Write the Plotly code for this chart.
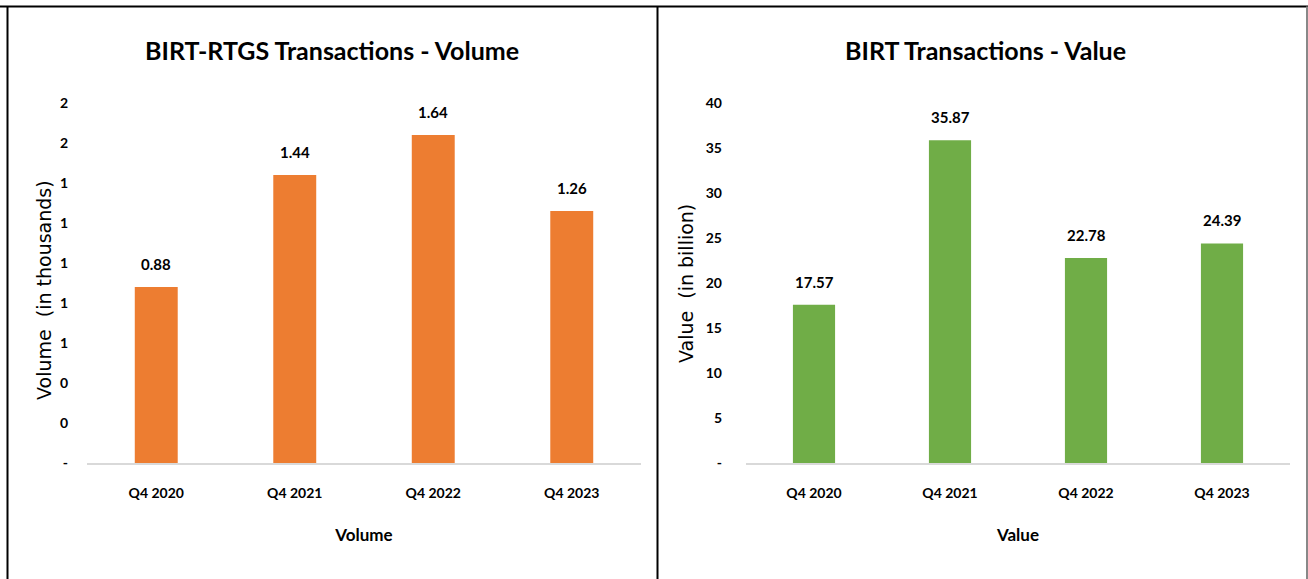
import plotly.graph_objects as go

# data
quarters = ["Q4 2020", "Q4 2021", "Q4 2022", "Q4 2023"]
volume = [0.88, 1.44, 1.64, 1.26]
value = [17.57, 35.87, 22.78, 24.39]

vol_tickvals = [0, 0.2, 0.4, 0.6, 0.8, 1.0, 1.2, 1.4, 1.6, 1.8]
vol_ticktext = ["-", "0", "0", "1", "1", "1", "1", "1", "2", "2"]
val_tickvals = [0, 5, 10, 15, 20, 25, 30, 35, 40]
val_ticktext = ["-", "5", "10", "15", "20", "25", "30", "35", "40"]

W, H = 1308, 579
FONT = "Lato"
ORANGE = "#ED7D31"
GREEN = "#70AD47"

fig = go.Figure()
fig.add_trace(go.Bar(x=quarters, y=volume, marker_color=ORANGE, xaxis="x", yaxis="y",
                     marker_line_width=0, showlegend=False, hoverinfo="skip"))
fig.add_trace(go.Bar(x=quarters, y=value, marker_color=GREEN, xaxis="x2", yaxis="y2",
                     marker_line_width=0, showlegend=False, hoverinfo="skip"))

lbl_font = dict(family=FONT, size=15, color="black", weight="bold")

# data labels above bars
annotations = []
for q, v in zip(quarters, volume):
    annotations.append(dict(x=q, y=v, xref="x", yref="y", text=f"{v:.2f}", showarrow=False,
                            yanchor="middle", yshift=23, font=lbl_font))
for q, v in zip(quarters, value):
    annotations.append(dict(x=q, y=v, xref="x2", yref="y2", text=f"{v:.2f}", showarrow=False,
                            yanchor="middle", yshift=23, font=lbl_font))

# chart titles
title_font = dict(family=FONT, size=25, color="black", weight="bold")
annotations.append(dict(x=332 / W, y=1 - 50 / H, xref="paper", yref="paper", showarrow=False,
                        xanchor="center", yanchor="middle",
                        text="BIRT-RTGS Transactions - Volume", font=title_font))
annotations.append(dict(x=985 / W, y=1 - 50 / H, xref="paper", yref="paper", showarrow=False,
                        xanchor="center", yanchor="middle",
                        text="BIRT Transactions - Value", font=title_font))

# y axis titles (rotated)
ytitle_font = dict(family="DejaVu Sans", size=19, color="black")
annotations.append(dict(x=44 / W, y=1 - 290 / H, xref="paper", yref="paper", showarrow=False,
                        xanchor="center", yanchor="middle", textangle=-90,
                        text="Volume  (in thousands)", font=ytitle_font))
annotations.append(dict(x=686 / W, y=1 - 284 / H, xref="paper", yref="paper", showarrow=False,
                        xanchor="center", yanchor="middle", textangle=-90,
                        text="Value  (in billion)", font=ytitle_font))

tick_font = dict(family=FONT, size=14, color="black", weight="bold")
xtitle_font = dict(family=FONT, size=17, color="black", weight="bold")

ydom = [1 - 463 / H, 1 - 103 / H]

fig.update_layout(
    width=W, height=H,
    margin=dict(l=0, r=0, t=0, b=0, pad=0, autoexpand=False),
    paper_bgcolor="white", plot_bgcolor="white",
    bargap=0.69,
    xaxis=dict(domain=[87 / W, 641 / W], showline=True, linecolor="#d9d9d9", linewidth=1.5,
               showgrid=False, ticks="", tickfont=tick_font, ticklabelstandoff=16,
               automargin=False,
               title=dict(text="Volume", font=xtitle_font, standoff=30)),
    yaxis=dict(domain=ydom, range=[0, 1.8], showgrid=False, zeroline=False, showline=False,
               tickvals=vol_tickvals, ticktext=vol_ticktext, tickfont=tick_font,
               ticklabelstandoff=18, automargin=False),
    xaxis2=dict(domain=[746 / W, 1290 / W], anchor="y2", showline=True, linecolor="#d9d9d9",
                linewidth=1.5, showgrid=False, ticks="", tickfont=tick_font, ticklabelstandoff=16,
                automargin=False,
                title=dict(text="Value", font=xtitle_font, standoff=30)),
    yaxis2=dict(domain=ydom, anchor="x2", range=[0, 40], showgrid=False, zeroline=False,
                showline=False, tickvals=val_tickvals, ticktext=val_ticktext, tickfont=tick_font,
                ticklabelstandoff=23, automargin=False),
    annotations=annotations,
    shapes=[
        dict(type="line", xref="paper", yref="paper", x0=0, x1=1, y0=1 - 6.5 / H, y1=1 - 6.5 / H,
             line=dict(color="black", width=2)),
        dict(type="line", xref="paper", yref="paper", x0=7.5 / W, x1=7.5 / W, y0=0, y1=1 - 6.5 / H,
             line=dict(color="black", width=2)),
        dict(type="line", xref="paper", yref="paper", x0=657.5 / W, x1=657.5 / W, y0=0, y1=1 - 6.5 / H,
             line=dict(color="black", width=2)),
        dict(type="line", xref="paper", yref="paper", x0=1307 / W, x1=1307 / W, y0=0, y1=1 - 6.5 / H,
             line=dict(color="#888888", width=2)),
    ],
)

# drop the default page margin so the figure sits at the window's top-left corner
fig.write_html("out.html", config={"displayModeBar": False},
               post_script="document.body.style.margin='0';")
